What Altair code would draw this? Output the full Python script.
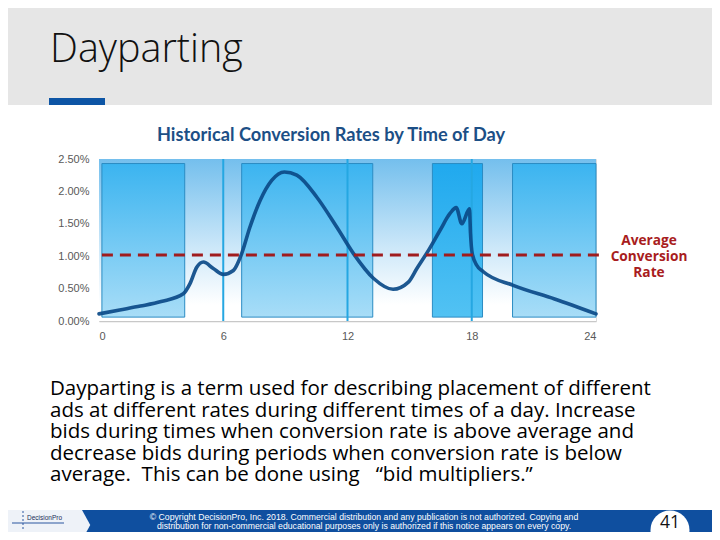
import altair as alt
import pandas as pd

# ---------------- data ----------------
hours = [0.0, 1.0, 2.0, 3.0, 4.07, 4.4, 4.72, 5.04, 5.52, 6.0, 6.49, 6.89, 7.29, 7.78,
         8.34, 8.95, 9.55, 10.52, 11.48, 12.29, 13.25, 14.2, 14.94, 15.35, 15.91, 16.47,
         16.95, 17.25, 17.52, 17.89, 17.94, 18.02, 18.24, 18.56, 20.0, 22.0, 24.0]
rates = [0.11, 0.17, 0.23, 0.30, 0.42, 0.58, 0.83, 0.91, 0.81, 0.72, 0.78, 1.04, 1.45, 1.86,
         2.17, 2.30, 2.25, 1.91, 1.45, 1.04, 0.66, 0.49, 0.60, 0.81, 1.09, 1.40,
         1.66, 1.75, 1.50, 1.73, 1.35, 1.05, 0.86, 0.76, 0.55, 0.34, 0.11]

block_start = [0.14, 6.89, 16.1, 19.97]
block_end = [4.14, 13.22, 18.52, 24.0]
block_top = 2.43
block_bottom = 0.06
block_kind = ["a", "a", "b", "a"]

guide_hours = [6, 12, 18]
avg_rate = 1.02
avg_from, avg_to = 0.14, 24.4

x_ticks = [0, 6, 12, 18, 24]
y_ticks = [0.0, 0.5, 1.0, 1.5, 2.0, 2.5]

slide_title = "Dayparting"
chart_title = "Historical Conversion Rates by Time of Day"
avg_label = ["Average", "Conversion", "Rate"]
body_lines = [
    "Dayparting is a term used for describing placement of different",
    "ads at different rates during different times of a day. Increase",
    "bids during times when conversion rate is above average and",
    "decrease bids during periods when conversion rate is below",
    "average.\u00a0 This can be done using \u00a0 \u201cbid multipliers.\u201d",
]
footer_lines = [
    "\u00a9 Copyright DecisionPro, Inc. 2018. Commercial distribution and any publication is not authorized. Copying and",
    "distribution for non-commercial educational purposes only is authorized if this notice appears on every copy.",
]
page_no = "41"
logo_text = "DecisionPro"

# ---------------- layout ----------------
OX, OY = 99, 159          # screen position of plot origin
PW, PH = 497, 162         # plot size
CW, CH = 704, 524         # canvas size (page margin 8px)


def X(sx):
    return sx - OX


def Y(sy):
    return sy - OY


one = pd.DataFrame({"k": [0]})

xs = alt.Scale(domain=[0, 24], nice=False, zero=False)
ys = alt.Scale(domain=[0, 0.025], nice=False)

axis_common = dict(title=None, grid=False, ticks=False, labelColor="#595959",
                   labelFont="Liberation Sans", labelFontSize=11, labelOverlap=False)
x_axis = alt.Axis(values=x_ticks, format="d", domainColor="#c8c8c8", domainWidth=1.5,
                  labelPadding=9, **axis_common)
y_axis = alt.Axis(values=[round(v / 100, 4) for v in y_ticks], format=".2%", domain=False,
                  labelPadding=10, tickCount=6, **axis_common)

curve = pd.DataFrame({"hour": hours, "rate": [r / 100 for r in rates]})
blocks = pd.DataFrame({"hour": block_start, "e": block_end,
                       "rate": [block_top / 100] * 4, "b": [block_bottom / 100] * 4,
                       "kind": block_kind})
guides = pd.DataFrame({"hour": guide_hours})
avg = pd.DataFrame({"hour": [avg_from, avg_to], "rate": [avg_rate / 100] * 2})
bg = pd.DataFrame({"hour": [0], "e": [24], "rate": [0.025], "b": [0.0]})


def XE():
    return alt.X("hour:Q", scale=xs, axis=x_axis)


def YE():
    return alt.Y("rate:Q", scale=ys, axis=y_axis)


def grad(stops):
    return {"gradient": "linear", "x1": 0, "y1": 0, "x2": 0, "y2": 1,
            "stops": [{"offset": o, "color": c} for o, c in stops]}


def vrect(x1, x2, y1, y2, color):
    return alt.Chart(one).mark_rect(fill=color).encode(
        x=alt.value(X(x1)), x2=alt.value(X(x2)), y=alt.value(Y(y1)), y2=alt.value(Y(y2)))


def vtext(line, sx, sy, **kw):
    return alt.Chart(one).mark_text(text=line, **kw).encode(
        x=alt.value(X(sx)), y=alt.value(Y(sy)))


def vlines(lines, sx, sy, step, **kw):
    return [vtext(l, sx, sy + i * step, **kw) for i, l in enumerate(lines)]


# background gradient of plot with axes
bg_layer = alt.Chart(bg).mark_rect(
    fill=grad([(0, "#74bfed"), (0.55, "#cde8f9"), (0.9, "#ffffff"), (1, "#ffffff")])
).encode(x=XE(), x2="e:Q", y=YE(), y2="b:Q")

blocks_a = alt.Chart(blocks).transform_filter("datum.kind == 'a'").mark_rect(
    fill=grad([(0, "#3bb4f0"), (1, "#a8ddf7")]), stroke="#2b8cc3", strokeWidth=1
).encode(x=XE(), x2="e:Q", y=YE(), y2="b:Q")

blocks_b = alt.Chart(blocks).transform_filter("datum.kind == 'b'").mark_rect(
    fill=grad([(0, "#20a9ee"), (1, "#52c2f3")]), stroke="#2b8cc3", strokeWidth=1
).encode(x=XE(), x2="e:Q", y=YE(), y2="b:Q")

guide_layer = alt.Chart(guides).mark_rule(color="#25a7e2", strokeWidth=2).encode(
    x=XE(), y=alt.value(0), y2=alt.value(PH))

curve_layer = alt.Chart(curve).mark_line(
    color="#0b4a88", strokeWidth=3.6, interpolate="monotone", opacity=0.92, strokeCap="round"
).encode(x=XE(), y=YE())

avg_layer = alt.Chart(avg).mark_line(color="#a01c1e", strokeWidth=3, strokeDash=[11, 7]).encode(
    x=XE(), y=YE())

avg_text = vlines(avg_label, 649, 245, 16, font="Open Sans", fontWeight="bold", fontSize=13.7,
                  color="#a81c20", align="center", baseline="alphabetic")

# slide decorations
header = vrect(0, 720, 0, 105, "#e6e6e6")
accent = vrect(49, 105, 98, 105, "#0d55a5")
title_t = vtext(slide_title, 50, 62, font="Open Sans", fontSize=39.5, fontWeight=300,
                color="#111111", align="left", baseline="alphabetic")
ctitle = vtext(chart_title, 331, 141, font="Lato", fontSize=18.2, fontWeight="bold",
               color="#1c4f86", align="center", baseline="alphabetic")
body = vlines(body_lines, 50, 395, 21.5, font="Open Sans", fontSize=20.5, color="#000000",
              align="left", baseline="alphabetic")

logo_bg = vrect(0, 82, 510, 540, "#eef2f8")
band = vrect(82, 720, 510, 540, "#0f4f9f")
notch = alt.Chart(one).mark_point(shape="M0,-1L0.55,0L0,1Z", filled=True, fill="#eef2f8",
                                  opacity=1, size=900, strokeWidth=0).encode(
    x=alt.value(X(82)), y=alt.value(Y(525)))
logo_h = alt.Chart(one).mark_rule(color="#2a56a0", strokeWidth=1).encode(
    x=alt.value(X(12)), x2=alt.value(X(64)), y=alt.value(Y(523)))
logo_v = alt.Chart(one).mark_rule(color="#2a56a0", strokeWidth=1, strokeDash=[2, 2]).encode(
    x=alt.value(X(23)), y=alt.value(Y(511)), y2=alt.value(Y(531)))
logo_t = vtext(logo_text, 27, 520, font="Liberation Sans", fontSize=6.5, color="#1a2f5a",
               align="left", baseline="alphabetic")
foot = vlines(footer_lines, 364, 519.5, 9.5, font="Liberation Sans", fontSize=8.7,
              color="#ffffff", align="center", baseline="alphabetic")
circle = alt.Chart(one).mark_point(shape="circle", filled=True, fill="#ffffff", opacity=1,
                                   size=1520, strokeWidth=0).encode(
    x=alt.value(X(670)), y=alt.value(Y(530)))
pnum = vtext(page_no, 670, 528, font="Open Sans", fontSize=17.5, color="#111111",
             align="center", baseline="alphabetic")

layers = [header, accent, title_t, ctitle,
          bg_layer, blocks_a, blocks_b, guide_layer, curve_layer, avg_layer] + avg_text + \
         body + [logo_bg, band, notch, logo_h, logo_v, logo_t] + foot + [circle, pnum]

chart = alt.layer(*layers).properties(
    width=PW, height=PH,
    autosize=alt.AutoSizeParams(type="none"),
    padding={"left": OX - 8, "top": OY - 8, "right": CW - (OX - 8) - PW,
             "bottom": CH - (OY - 8) - PH},
).configure_view(stroke=None).configure(background="#ffffff")

chart.save("out.html", embed_options={"renderer": "svg", "actions": False})
